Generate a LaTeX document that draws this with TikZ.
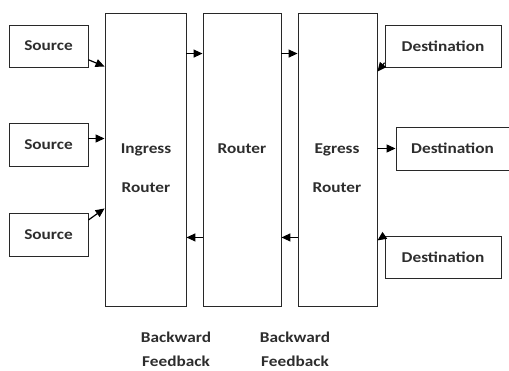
\documentclass[tikz,border=0pt]{standalone}
\usepackage{fontspec}
\setmainfont{Carlito}
\newfontfamily\lblfont[FakeStretch=1.15]{Carlito}
\usetikzlibrary{arrows.meta}
\definecolor{txtcol}{RGB}{45,45,45}
\definecolor{boxcol}{RGB}{40,40,40}

\begin{document}
\begin{tikzpicture}[x=1pt,y=-1pt,
  box/.style={draw=boxcol,line width=0.9pt,inner sep=0pt,minimum width=#1},
  box/.default=79pt,
  lbl/.style={text=txtcol,font=\lblfont\fontsize{15}{24.5}\selectfont\bfseries,align=center},
  arr/.style={-{Triangle[length=9pt,width=8pt]},line width=1.2pt,black}]
\useasboundingbox (0,0) rectangle (509,371);
% end boxes
\node[box,minimum height=42pt,lbl] (src1) at (48.5,46) {Source};
\node[box,minimum height=43pt,lbl] (src2) at (48.5,144.5) {Source};
\node[box,minimum height=43pt,lbl] (src3) at (48.5,234.5) {Source};
\node[box=116pt,minimum height=42pt,lbl] (dst1) at (443,46) {Destination};
\node[box=113pt,minimum height=43pt,lbl] (dst2) at (452.5,148.5) {Destination};
\node[box=116pt,minimum height=42pt,lbl] (dst3) at (443,257) {Destination};
% routers
\node[box=81pt,minimum height=293pt] (ingress) at (145.5,159.5) {};
\node[box=78pt,minimum height=293pt] (router) at (242,159.5) {};
\node[box=79pt,minimum height=293pt] (egress) at (337.5,159.5) {};
\node[lbl,anchor=base] (ingresslbl) at (146,193) {Ingress\\[14.5pt]Router};
\node[lbl,anchor=base] (routerlbl) at (242,154) {Router};
\node[lbl,anchor=base] (egresslbl) at (337,193) {Egress\\[14.5pt]Router};
% forward links
\draw[arr] (src1.-19.5) -- ([yshift=-54pt]ingress.north west);
\draw[arr] ([yshift=6pt]src2.east) -- ([yshift=6pt]src2.east -| ingress.west);
\draw[arr] (src3.20) -- ([yshift=98pt]ingress.south west);
\draw[arr] ([yshift=-41pt]ingress.north east) -- ([yshift=-41pt]router.north west);
\draw[arr] ([yshift=-41pt]router.north east) -- ([yshift=-41pt]egress.north west);
\draw[arr] (egress.east |- dst2.west) -- (dst2.west);
\draw[arr] (dst1.196) -- ([yshift=-59pt]egress.north east);
\draw[arr] (dst3.north west) -- ([yshift=66pt]egress.south east);
% backward feedback
\draw[arr] ([yshift=69pt]router.south west) -- ([yshift=69pt]ingress.south east);
\draw[arr] ([yshift=69pt]egress.south west) -- ([yshift=69pt]router.south east);
\node[lbl,anchor=base] (fb1) at (176,367) {Backward\\Feedback};
\node[lbl,anchor=base] (fb2) at (295,367) {Backward\\Feedback};
\end{tikzpicture}
\end{document}
